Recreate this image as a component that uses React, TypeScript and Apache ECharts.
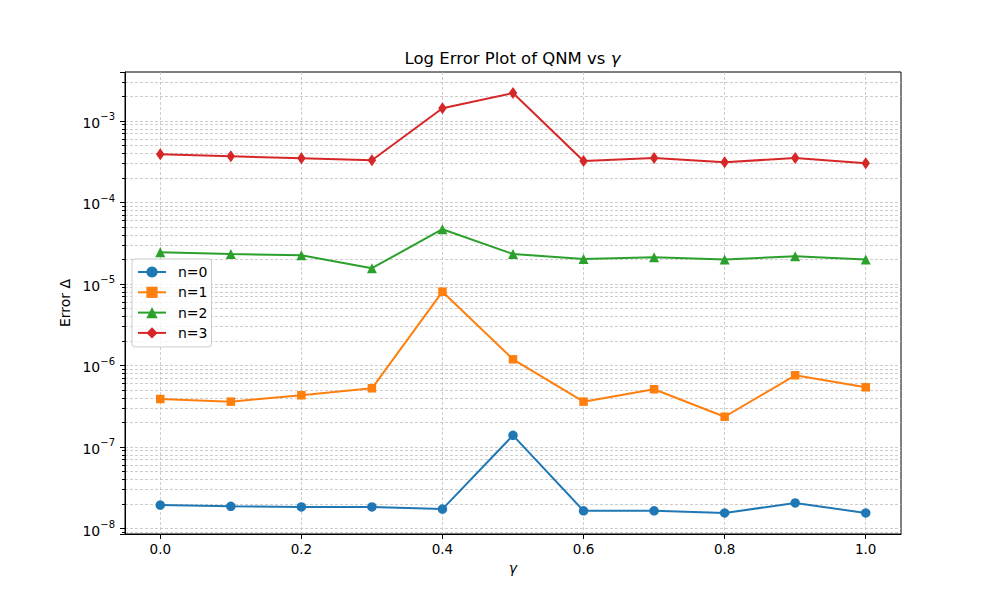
import React, { useEffect, useRef } from "react";
import * as echarts from "echarts";

const gammaValues = [0.0, 0.1, 0.2, 0.3, 0.4, 0.5, 0.6, 0.7, 0.8, 0.9, 1.0];
const seriesNames = ["n=0", "n=1", "n=2", "n=3"];
const errN0 = [1.94e-8, 1.87e-8, 1.84e-8, 1.84e-8, 1.73e-8, 1.39e-7, 1.65e-8, 1.65e-8, 1.55e-8, 2.06e-8, 1.55e-8];
const errN1 = [3.88e-7, 3.6e-7, 4.31e-7, 5.25e-7, 8.04e-6, 1.19e-6, 3.6e-7, 5.11e-7, 2.35e-7, 7.58e-7, 5.4e-7];
const errN2 = [2.45e-5, 2.33e-5, 2.25e-5, 1.56e-5, 4.69e-5, 2.33e-5, 2.03e-5, 2.12e-5, 1.99e-5, 2.19e-5, 1.99e-5];
const errN3 = [3.9e-4, 3.69e-4, 3.48e-4, 3.29e-4, 1.43e-3, 2.2e-3, 3.23e-4, 3.51e-4, 3.11e-4, 3.51e-4, 3.03e-4];
const colors = ["#1f77b4", "#ff7f0e", "#2ca02c", "#d62728"];
const symbols = ["circle", "rect", "triangle", "diamond"];
const symbolSizes: any[] = [9.5, 8.5, 10, [8.5, 12]];

const FONT = "DejaVu Sans";

export default function App() {
  const ref = useRef<HTMLDivElement>(null);
  useEffect(() => {
    if (!ref.current) return;
    const chart = echarts.init(ref.current, null, { renderer: "svg" });
    const all = [errN0, errN1, errN2, errN3];
    const flat = all.flat();
    const lmin = Math.log10(Math.min(...flat));
    const lmax = Math.log10(Math.max(...flat));
    const pad = (lmax - lmin) * 0.05;
    const yMin = Math.pow(10, lmin - pad);
    const yMax = Math.pow(10, lmax + pad);

    const gridColor = "#b8b8b8";
    const gridType: any = [3, 2];
    const gridLine = { color: gridColor, width: 0.7, type: gridType };

    const series = all.map((d, i) => ({
      name: seriesNames[i],
      type: "line",
      data: d.map((v, j) => [gammaValues[j], v]),
      symbol: symbols[i],
      symbolSize: symbolSizes[i],
      showAllSymbol: true,
      lineStyle: { color: colors[i], width: 2 },
      itemStyle: { color: colors[i] },
      z: 3,
    }));

    chart.setOption({
      animation: false,
      backgroundColor: "#fff",
      textStyle: { fontFamily: FONT },
      grid: {
        left: 125,
        right: 99,
        top: 72,
        bottom: 66,
        show: true,
        borderColor: "#000",
        borderWidth: 1,
        backgroundColor: "transparent",
      },
      legend: {
        orient: "vertical",
        left: 132,
        top: 259,
        itemWidth: 28,
        itemHeight: 14,
        itemGap: 6.3,
        padding: [6, 4, 7, 5],
        backgroundColor: "rgba(255,255,255,0.8)",
        borderColor: "#cccccc",
        borderWidth: 1,
        borderRadius: 3,
        textStyle: { fontFamily: FONT, fontSize: 14, color: "#000", padding: [0, 0, 0, 7] },
        data: seriesNames,
      },
      graphic: [
        {
          type: "text",
          x: 512.5,
          y: 58,
          style: {
            text: "{a|Log Error Plot of QNM vs }{i|γ}",
            textAlign: "center",
            textVerticalAlign: "middle",
            rich: {
              a: { fontFamily: FONT, fontSize: 16.5, fill: "#000" },
              i: { fontFamily: FONT, fontSize: 16.5, fontStyle: "italic", fill: "#000" },
            },
          },
        },
      ],
      xAxis: {
        type: "value",
        min: -0.05,
        max: 1.05,
        name: "γ",
        nameLocation: "middle",
        nameGap: 27,
        nameTextStyle: { fontFamily: FONT, fontSize: 14, fontStyle: "italic", color: "#000" },
        axisLine: { show: true, onZero: false, lineStyle: { color: "#000", width: 1 } },
        axisTick: { show: true, inside: false, length: 5, lineStyle: { color: "#000" } },
        axisLabel: {
          showMinLabel: false,
          showMaxLabel: false,
          fontFamily: FONT,
          fontSize: 13.5,
          color: "#000",
          margin: 8,
          formatter: (v: number) => v.toFixed(1),
        },
        splitLine: { show: true, showMinLine: false, showMaxLine: false, lineStyle: gridLine },
      },
      yAxis: {
        type: "log",
        logBase: 10,
        min: yMin,
        max: yMax,
        name: "Error Δ",
        nameLocation: "middle",
        nameRotate: 90,
        nameGap: 47,
        nameTextStyle: { fontFamily: FONT, fontSize: 14, color: "#000" },
        axisLine: { show: true, onZero: false, lineStyle: { color: "#000", width: 1 } },
        axisTick: { show: true, inside: false, length: 5, lineStyle: { color: "#000" } },
        minorTick: { show: true, splitNumber: 9, length: 3, lineStyle: { color: "#000" } },
        minorSplitLine: { show: true, lineStyle: gridLine },
        axisLabel: {
          showMinLabel: false,
          showMaxLabel: false,
          interval: 0,
          margin: 10,
          color: "#000",
          formatter: (v: number) => {
            const e = Math.round(Math.log10(v));
            return "{b|10}{s|" + (e < 0 ? "−" : "") + Math.abs(e) + "}";
          },
          rich: {
            b: { fontFamily: FONT, fontSize: 14, color: "#000", lineHeight: 18, verticalAlign: "bottom" },
            s: { fontFamily: FONT, fontSize: 10, color: "#000", lineHeight: 18, verticalAlign: "top" },
          },
        },
        splitLine: { show: true, showMinLine: false, showMaxLine: false, lineStyle: gridLine },
      },
      series,
    });
    return () => chart.dispose();
  }, []);
  return (
    <div
      ref={ref}
      style={{ position: "absolute", left: 0, top: 0, width: 1000, height: 600 }}
    />
  );
}
